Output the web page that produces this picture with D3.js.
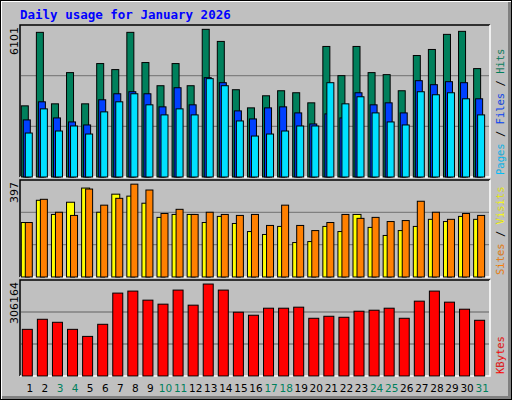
<!DOCTYPE html>
<html><head><meta charset="utf-8">
<script src="https://cdn.jsdelivr.net/npm/d3@7"></script>
<style>body{margin:0;background:#fff}svg{display:block}</style>
</head><body><svg id="chart" width="512" height="400"></svg>
<script>
// 날짜와 주말 표시
const days = d3.range(1, 32);
const weekend = [3, 4, 10, 11, 17, 18, 24, 25, 31];

// 일별 값
const hits = [2856,5806,2937,4190,2937,4553,4311,5806,4594,3664,4553,3664,5927,5442,3503,2775,3260,3462,3382,2977,5240,4068,5240,4190,4109,3462,4876,5119,5725,5846,4351];
const files = [2291,3018,2371,2210,2089,3099,3341,3422,3341,2816,3583,2897,3987,3785,2654,2331,2775,2816,2573,2129,2533,2371,3381,2897,2977,2573,3866,3705,3826,3785,3139];
const pages = [1765,2735,1846,2048,1725,2614,3018,3341,2897,2493,2735,2493,3947,3664,2250,1644,1725,1846,2048,2048,3785,2937,3220,2573,2210,2089,3422,3301,3381,3139,2493];
const sites = [223,314,256,306,364,265,339,331,302,244,256,256,223,248,219,186,174,207,141,145,207,186,256,203,170,190,207,236,227,248,236];
const visits = [223,318,265,252,360,294,322,380,356,260,277,256,265,256,252,256,211,294,211,190,223,256,240,244,227,231,310,265,236,260,252];
const kbytes = [148800,180900,171300,148800,126300,164900,264400,270800,241900,229100,274000,225900,293300,274000,203400,193800,216200,216200,219500,184100,190500,187300,206600,209800,216200,184100,238700,270800,235500,213000,177700];

const maxHits = 6101, maxVisits = 397, maxKB = 306164;

const svg = d3.select("#chart");
const W = 512, H = 400;
const font = "'DejaVu Sans Mono', monospace";

// 배경 + 3D 테두리
svg.append("rect").attr("width", W).attr("height", H).attr("fill", "#000");
svg.append("rect").attr("x", 1).attr("y", 1).attr("width", W - 2).attr("height", H - 2).attr("fill", "#fff");
svg.append("rect").attr("x", 2).attr("y", 2).attr("width", W - 3).attr("height", H - 3).attr("fill", "#808080");
svg.append("rect").attr("x", 2).attr("y", 2).attr("width", W - 6).attr("height", H - 6).attr("fill", "#c0c0c0");

svg.append("text").attr("x", 20).attr("y", 19)
    .attr("font-family", font).attr("font-weight", "bold").attr("font-size", 12.5)
    .attr("fill", "#0000ff").text("Daily usage for January 2026");

const left = 20, right = 490;
const x = d3.scaleBand().domain(days).range([left + 1, right - 1]).paddingInner(0).paddingOuter(0.02);
const step = x.step();

const panels = [
    {top: 25, bottom: 177, max: maxHits, label: "6101",
     series: [{v: hits, c: "#00805c", dx: 4, w: 7}, {v: files, c: "#0040ff", dx: 6, w: 7}, {v: pages, c: "#00e0ff", dx: 8, w: 7}],
     legend: [["Pages", "#00c0ff"], [" / ", "#000"], ["Files", "#0040ff"], [" / ", "#000"], ["Hits", "#00805c"]]},
    {top: 180, bottom: 277, max: maxVisits, label: "397",
     series: [{v: sites, c: "#ffff00", dx: 4, w: 8}, {v: visits, c: "#ff8000", dx: 8, w: 7}],
     legend: [["Sites", "#ff8000"], [" / ", "#000"], ["Visits", "#ffff00"]]},
    {top: 280, bottom: 376, max: maxKB, label: "306164",
     series: [{v: kbytes, c: "#ff0000", dx: 5, w: 10}],
     legend: [["KBytes", "#ff0000"]]}
];

panels.forEach(p => {
    const y = d3.scaleLinear().domain([0, p.max]).range([p.bottom, p.top]);
    const g = svg.append("g");
    // 패널 테두리: 좌상단 검정, 우하단 흰색
    g.append("path").attr("d", `M${left},${p.bottom}V${p.top}H${right}`).attr("stroke", "#000").attr("fill", "none").attr("stroke-width", 1.5);
    g.append("path").attr("d", `M${left},${p.bottom}H${right}V${p.top}`).attr("stroke", "#fff").attr("fill", "none").attr("stroke-width", 1.5);
    // 눈금선
    [1 / 3, 2 / 3].forEach(f => {
        g.append("line").attr("x1", left + 1).attr("x2", right - 1)
            .attr("y1", y(p.max * f)).attr("y2", y(p.max * f))
            .attr("stroke", "#808080").attr("stroke-width", 1.3);
    });
    p.series.forEach(s => {
        g.selectAll(null).data(days).join("rect")
            .attr("x", d => x(d) + s.dx - 4)
            .attr("y", (d, i) => y(s.v[i]))
            .attr("width", s.w)
            .attr("height", (d, i) => p.bottom - y(s.v[i]))
            .attr("fill", s.c).attr("stroke", "#000").attr("stroke-width", 1);
    });
    g.append("text").attr("transform", `translate(18,${p.top + 2}) rotate(-90)`)
        .attr("text-anchor", "end").attr("font-family", "'DejaVu Sans', sans-serif").attr("font-size", 11)
        .attr("fill", "#000").text(p.label);
    const t = g.append("text").attr("transform", `translate(504,${p.bottom - 2}) rotate(-90)`)
        .attr("font-family", font).attr("font-size", 10.5);
    p.legend.forEach(l => t.append("tspan").attr("fill", l[1]).attr("stroke", l[1] === "#000" ? "none" : "#808080").attr("stroke-width", 0.15).text(l[0]));
});

// 날짜 라벨
svg.selectAll("text.day").data(days).join("text").attr("class", "day")
    .attr("x", d => x(d) + step / 2 + 1).attr("y", 392)
    .attr("text-anchor", "middle").attr("font-family", "'DejaVu Sans', sans-serif").attr("font-size", 10.5)
    .attr("fill", d => weekend.includes(d) ? "#00805c" : "#000").text(d => d);
</script></body></html>
